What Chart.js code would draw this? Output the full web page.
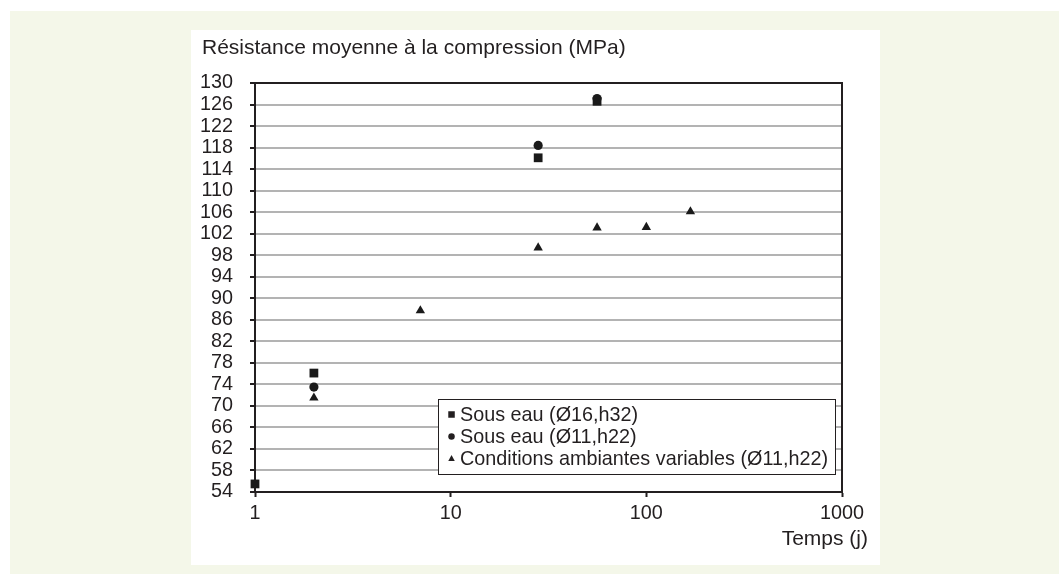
<!DOCTYPE html>
<html>
<head>
<meta charset="utf-8">
<script src="https://cdn.jsdelivr.net/npm/chart.js@4.4.0/dist/chart.umd.min.js"></script>
<style>
  html, body { margin: 0; padding: 0; background: #ffffff; width: 1059px; height: 574px; overflow: hidden; }
  #cream { position: absolute; left: 10px; top: 11px; width: 1049px; height: 563px; background: #f4f7e9; }
  #panel { position: absolute; left: 191px; top: 30px; width: 689px; height: 535px; background: #ffffff; }
  canvas { display: block; }
</style>
</head>
<body>
<div id="cream"></div>
<div id="panel"><canvas id="c" width="689" height="535"></canvas></div>
<script>
// ---- data ----
const yTitle = "Résistance moyenne à la compression (MPa)";
const xTitle = "Temps (j)";
const xTicks = [1, 10, 100, 1000];
const yTicks = [54, 58, 62, 66, 70, 74, 78, 82, 86, 90, 94, 98, 102, 106, 110, 114, 118, 122, 126, 130];

const labelA = "Sous eau (Ø16,h32)";
const daysA = [1, 2, 28, 56];
const valsA = [55.5, 76.1, 116.1, 126.6];

const labelB = "Sous eau (Ø11,h22)";
const daysB = [2, 28, 56];
const valsB = [73.5, 118.4, 127.1];

const labelC = "Conditions ambiantes variables (Ø11,h22)";
const daysC = [2, 7, 28, 56, 100, 168];
const valsC = [71.5, 87.7, 99.4, 103.1, 103.2, 106.1];

// ---- styling ----
const INK = '#231f20';
const FONT = '"Liberation Sans", Arial, Helvetica, sans-serif';
const FSIZE = 19.8;
const TSIZE = 21;

function pts(d, v) { return d.map((x, i) => ({ x: x, y: v[i] })); }

function drawMarker(ctx, style, x, y, s) {
  ctx.beginPath();
  if (style === 'rect') {
    ctx.rect(x - s / 2, y - s / 2, s, s);
  } else if (style === 'circle') {
    ctx.arc(x, y, s / 2, 0, Math.PI * 2);
  } else {
    ctx.moveTo(x, y - s * 0.55);
    ctx.lineTo(x + s / 2, y + s * 0.4);
    ctx.lineTo(x - s / 2, y + s * 0.4);
    ctx.closePath();
  }
  ctx.fill();
}

const decorPlugin = {
  id: 'decor',
  beforeDatasetsDraw(chart) {
    const { ctx, chartArea: a } = chart;
    ctx.save();
    ctx.strokeStyle = INK;
    ctx.lineWidth = 2;
    ctx.beginPath();
    ctx.moveTo(a.left, a.top);
    ctx.lineTo(a.right, a.top);
    ctx.lineTo(a.right, a.bottom);
    ctx.stroke();
    ctx.restore();
  },
  afterDraw(chart) {
    const { ctx, chartArea: a } = chart;
    ctx.save();
    ctx.fillStyle = INK;
    ctx.font = TSIZE + 'px ' + FONT;
    ctx.textBaseline = 'alphabetic';
    ctx.textAlign = 'left';
    ctx.fillText(yTitle, a.left - 53, a.top - 29);
    ctx.textAlign = 'right';
    ctx.fillText(xTitle, a.right + 26, a.bottom + 53);

    // legend
    ctx.font = FSIZE + 'px ' + FONT;
    const items = chart.data.datasets.map(ds => ({ text: ds.label, style: ds.pointStyle }));
    let maxW = 0;
    items.forEach(it => { maxW = Math.max(maxW, ctx.measureText(it.text).width); });
    const right = a.right - 7;
    const bottom = a.bottom - 18;
    const rowH = 22;
    const h = 75;
    const w = 22 + maxW + 7;
    const left = right - w;
    const top = bottom - h;
    ctx.fillStyle = '#ffffff';
    ctx.fillRect(left, top, w, h);
    ctx.strokeStyle = INK;
    ctx.lineWidth = 1;
    ctx.strokeRect(Math.round(left) + 0.5, Math.round(top) + 0.5, Math.round(w), Math.round(h));
    ctx.textAlign = 'left';
    items.forEach((it, i) => {
      const base = top + 22 + i * rowH;
      ctx.fillStyle = INK;
      ctx.fillText(it.text, left + 22, base);
      drawMarker(ctx, it.style, left + 13.5, base - 6.5, 6.5);
    });
    ctx.restore();
  }
};

const pointCommon = {
  showLine: false,
  backgroundColor: '#1a1a1a',
  borderColor: '#1a1a1a',
  borderWidth: 0,
  clip: false
};

new Chart(document.getElementById('c'), {
  type: 'scatter',
  data: {
    datasets: [
      Object.assign({ label: labelA, data: pts(daysA, valsA), pointStyle: 'rect', pointRadius: 6.2, pointHoverRadius: 6.2 }, pointCommon),
      Object.assign({ label: labelB, data: pts(daysB, valsB), pointStyle: 'circle', pointRadius: 4.6, pointHoverRadius: 4.6 }, pointCommon),
      Object.assign({ label: labelC, data: pts(daysC, valsC), pointStyle: 'triangle', pointRadius: 5.4, pointHoverRadius: 5.4 }, pointCommon)
    ]
  },
  options: {
    responsive: false,
    animation: false,
    events: [],
    layout: { padding: { top: 53, right: 38, left: 0, bottom: 0 } },
    plugins: { legend: { display: false }, tooltip: { enabled: false }, title: { display: false } },
    scales: {
      x: {
        type: 'logarithmic',
        min: 1,
        max: 1000,
        afterBuildTicks: s => { s.ticks = xTicks.map(v => ({ value: v })); },
        afterFit: s => { s.height = 73; },
        grid: { drawOnChartArea: false, drawTicks: true, tickLength: 5, tickColor: INK, tickWidth: 2 },
        border: { display: true, color: INK, width: 2 },
        ticks: {
          color: INK,
          font: { family: FONT, size: FSIZE },
          padding: 5,
          maxRotation: 0,
          autoSkip: false,
          callback: v => String(v)
        }
      },
      y: {
        type: 'linear',
        min: 54,
        max: 130,
        afterBuildTicks: s => { s.ticks = yTicks.map(v => ({ value: v })); },
        afterFit: s => { s.width = 64; },
        grid: {
          drawOnChartArea: true,
          drawTicks: true,
          tickLength: 5,
          tickColor: INK,
          tickWidth: 2,
          lineWidth: 2,
          color: '#b3b3b3'
        },
        border: { display: true, color: INK, width: 2 },
        ticks: {
          color: INK,
          font: { family: FONT, size: FSIZE },
          padding: 17,
          autoSkip: false,
          callback: v => String(v)
        }
      }
    }
  },
  plugins: [decorPlugin]
});
</script>
</body>
</html>
